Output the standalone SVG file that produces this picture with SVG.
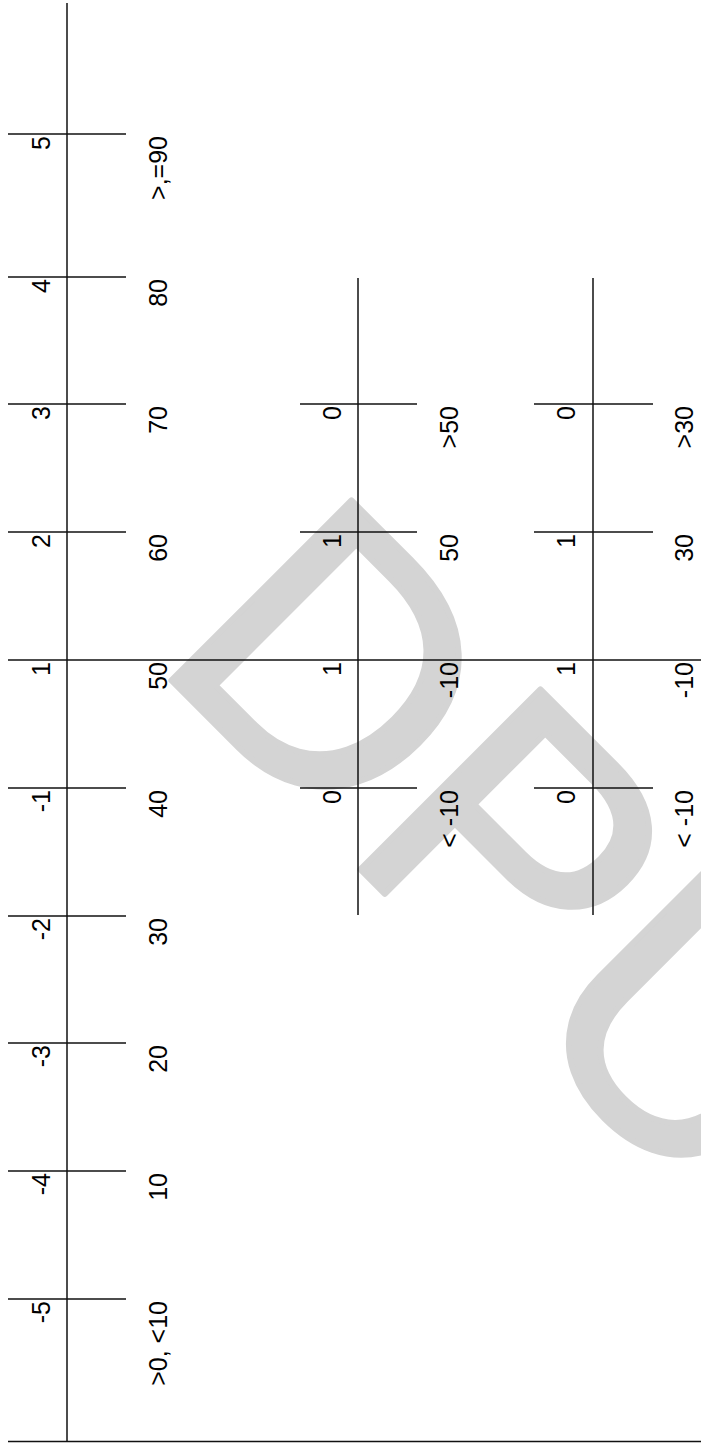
<svg xmlns="http://www.w3.org/2000/svg" width="701" height="1445" viewBox="0 0 701 1445">
  <style>
    .ln { stroke: #111; stroke-width: 1.5; fill: none; }
    .lb { font-family: "Liberation Sans", Arial, sans-serif; font-size: 25px; fill: #000; text-anchor: end; }
    .wm { font-family: "Liberation Sans", Arial, sans-serif; font-size: 370px; fill: #d4d4d4; stroke: #d4d4d4; stroke-width: 6; stroke-linejoin: round; }
  </style>
  <rect width="701" height="1445" fill="#fff"/>
  <g id="watermark">
    <text class="wm" transform="translate(150,659) rotate(45)">DPU</text>
  </g>
  <g id="connectors">
    <line class="ln" x1="67" y1="3" x2="67" y2="1442"/>
    <line class="ln" x1="8" y1="1441.5" x2="701" y2="1441.5"/>
    <line class="ln" x1="8" y1="660" x2="701" y2="660"/>
    <line class="ln" x1="358" y1="278" x2="358" y2="915"/>
    <line class="ln" x1="593" y1="278" x2="593" y2="915"/>
  </g>
  <g id="main-scale">
    <line class="ln" x1="8" y1="134" x2="126" y2="134"/>
    <line class="ln" x1="8" y1="277" x2="126" y2="277"/>
    <line class="ln" x1="8" y1="404" x2="126" y2="404"/>
    <line class="ln" x1="8" y1="532" x2="126" y2="532"/>
    <line class="ln" x1="8" y1="788" x2="126" y2="788"/>
    <line class="ln" x1="8" y1="916" x2="126" y2="916"/>
    <line class="ln" x1="8" y1="1043" x2="126" y2="1043"/>
    <line class="ln" x1="8" y1="1171" x2="126" y2="1171"/>
    <line class="ln" x1="8" y1="1299" x2="126" y2="1299"/>
    <text class="lb" transform="translate(50,136) rotate(-90)">5</text>
    <text class="lb" transform="translate(50,279) rotate(-90)">4</text>
    <text class="lb" transform="translate(50,406) rotate(-90)">3</text>
    <text class="lb" transform="translate(50,534) rotate(-90)">2</text>
    <text class="lb" transform="translate(50,662) rotate(-90)">1</text>
    <text class="lb" transform="translate(50,790) rotate(-90)">-1</text>
    <text class="lb" transform="translate(50,918) rotate(-90)">-2</text>
    <text class="lb" transform="translate(50,1045) rotate(-90)">-3</text>
    <text class="lb" transform="translate(50,1173) rotate(-90)">-4</text>
    <text class="lb" transform="translate(50,1301) rotate(-90)">-5</text>
    <text class="lb" transform="translate(167,136) rotate(-90)">&gt;,=90</text>
    <text class="lb" transform="translate(167,279) rotate(-90)">80</text>
    <text class="lb" transform="translate(167,406) rotate(-90)">70</text>
    <text class="lb" transform="translate(167,534) rotate(-90)">60</text>
    <text class="lb" transform="translate(167,662) rotate(-90)">50</text>
    <text class="lb" transform="translate(167,790) rotate(-90)">40</text>
    <text class="lb" transform="translate(167,918) rotate(-90)">30</text>
    <text class="lb" transform="translate(167,1045) rotate(-90)">20</text>
    <text class="lb" transform="translate(167,1173) rotate(-90)">10</text>
    <text class="lb" transform="translate(167,1301) rotate(-90)">&gt;0, &lt;10</text>
  </g>
  <g id="scale-2">
    <line class="ln" x1="300" y1="404" x2="417" y2="404"/>
    <line class="ln" x1="300" y1="532" x2="417" y2="532"/>
    <line class="ln" x1="300" y1="788" x2="417" y2="788"/>
    <text class="lb" transform="translate(341,406) rotate(-90)">0</text>
    <text class="lb" transform="translate(341,534) rotate(-90)">1</text>
    <text class="lb" transform="translate(341,662) rotate(-90)">1</text>
    <text class="lb" transform="translate(341,790) rotate(-90)">0</text>
    <text class="lb" transform="translate(458,406) rotate(-90)">&gt;50</text>
    <text class="lb" transform="translate(458,534) rotate(-90)">50</text>
    <text class="lb" transform="translate(458,662) rotate(-90)">-10</text>
    <text class="lb" transform="translate(458,790) rotate(-90)">&lt; -10</text>
  </g>
  <g id="scale-3">
    <line class="ln" x1="534" y1="404" x2="653" y2="404"/>
    <line class="ln" x1="534" y1="532" x2="653" y2="532"/>
    <line class="ln" x1="534" y1="788" x2="653" y2="788"/>
    <text class="lb" transform="translate(575,406) rotate(-90)">0</text>
    <text class="lb" transform="translate(575,534) rotate(-90)">1</text>
    <text class="lb" transform="translate(575,662) rotate(-90)">1</text>
    <text class="lb" transform="translate(575,790) rotate(-90)">0</text>
    <text class="lb" transform="translate(693,406) rotate(-90)">&gt;30</text>
    <text class="lb" transform="translate(693,534) rotate(-90)">30</text>
    <text class="lb" transform="translate(693,662) rotate(-90)">-10</text>
    <text class="lb" transform="translate(693,790) rotate(-90)">&lt; -10</text>
  </g>
</svg>
